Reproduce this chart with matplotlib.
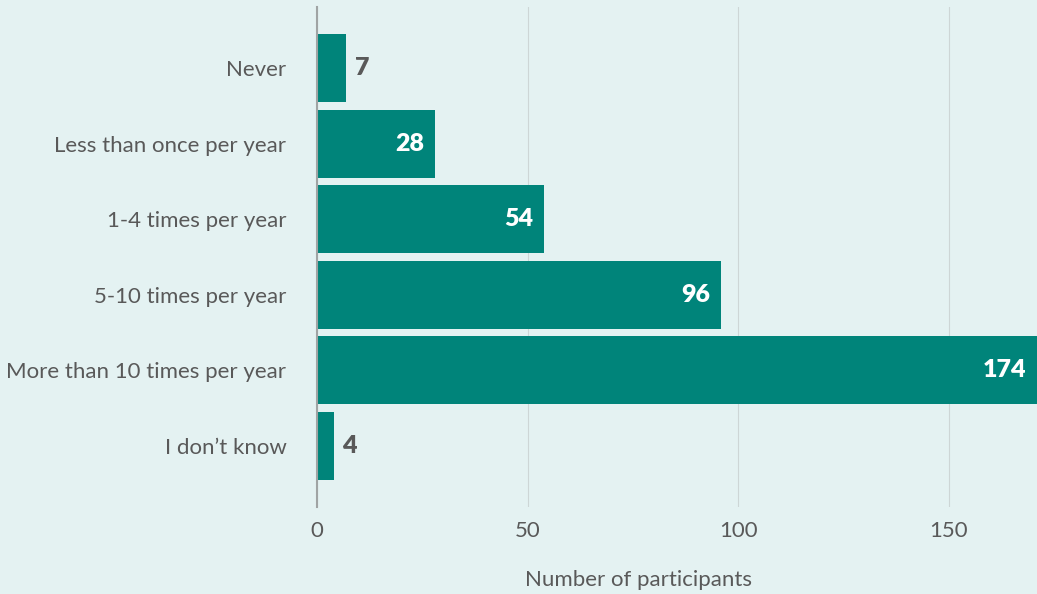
import matplotlib.pyplot as plt
import numpy as np

categories = ['Never', 'Less than once per year', '1-4 times per year',
              '5-10 times per year', 'More than 10 times per year', 'I don\u2019t know']
participants = [7, 28, 54, 96, 174, 4]
x_ticks = [0, 50, 100, 150]

bg = '#e4f2f2'
bar_color = '#00847a'
text_color = '#595959'

plt.rcParams['font.family'] = ['Lato', 'DejaVu Sans']

fig = plt.figure(figsize=(10.37, 5.94), dpi=100, facecolor=bg)
ax = fig.add_axes([317 / 1037, 1 - 507 / 594, 720 / 1037, 500 / 594], facecolor=bg)

y = np.arange(len(categories))
ax.barh(y, participants, height=0.9, color=bar_color, zorder=2)

xmax = 171
ax.set_xlim(0, xmax)
ax.set_ylim(len(categories) - 0.19, -0.81)

for yi, v in zip(y, participants):
    if v < 20:
        ax.annotate(str(v), (v, yi), xytext=(6, 0), textcoords='offset points',
                    ha='left', va='center', fontsize=18, fontweight='heavy', color=text_color)
    else:
        ax.annotate(str(v), (min(v, xmax), yi), xytext=(-8, 0), textcoords='offset points',
                    ha='right', va='center', fontsize=18, fontweight='heavy', color='white')

ax.set_yticks(y)
ax.set_yticklabels(categories)
ax.set_xticks(x_ticks)
ax.tick_params(axis='both', length=0, labelsize=16, colors=text_color)
ax.tick_params(axis='y', pad=22)
ax.tick_params(axis='x', pad=10)
ax.xaxis.grid(True, color='#cdd6d6', linewidth=0.8, zorder=0)
ax.set_axisbelow(True)
for s in ['top', 'right', 'bottom']:
    ax.spines[s].set_visible(False)
ax.spines['left'].set_color('#a0a4a4')
ax.spines['left'].set_linewidth(1.5)
ax.spines['left'].set_zorder(3)

ax.set_xlabel('Number of participants', fontsize=16, color=text_color, labelpad=20)
ax.xaxis.set_label_coords(0.446, -0.125)

fig.savefig('out.png', dpi=100, facecolor=bg)
